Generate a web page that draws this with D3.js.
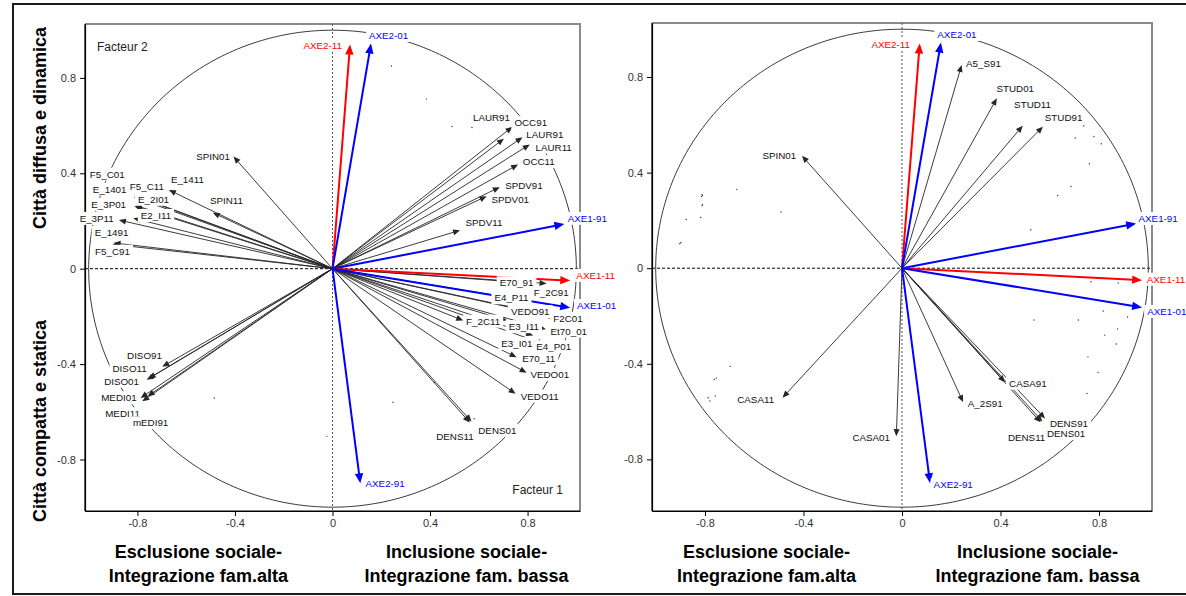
<!DOCTYPE html>
<html>
<head>
<meta charset="utf-8">
<script src="https://cdnjs.cloudflare.com/ajax/libs/d3/7.8.5/d3.min.js"></script>
<style>
  body { margin: 0; background: #fff; }
  svg { display: block; }
  text { font-family: "Liberation Sans", Arial, sans-serif; }
</style>
</head>
<body>
<div id="chart"></div>
<script>
// tick values shared by both panels
const ticks = [-0.8, -0.4, 0, 0.4, 0.8];
const tickLabels = ["-0.8", "-0.4", "0", "0.4", "0.8"];

// variable coordinates: [name, factor 1, factor 2]
const variables = [
  ["SPIN01", -0.406, 0.47], ["SPIN11", -0.491, 0.235], ["E_1411", -0.671, 0.33],
  ["F5_C11", -0.81, 0.305], ["F5_C01", -0.812, 0.308], ["E_1401", -0.814, 0.3],
  ["E_3P01", -0.81, 0.266], ["E_2I01", -0.812, 0.262], ["E2_I11", -0.817, 0.212],
  ["E_3P11", -0.876, 0.204], ["E_1491", -0.898, 0.108], ["F5_C91", -0.902, 0.102],
  ["OCC91", 0.738, 0.595], ["LAUR91", 0.703, 0.545], ["LAUR01", 0.779, 0.551],
  ["LAUR11", 0.809, 0.521], ["OCC11", 0.761, 0.437], ["SPDV91", 0.686, 0.342],
  ["SPDV01", 0.632, 0.304], ["SPDV11", 0.523, 0.161],
  ["E70_91", 0.767, -0.057], ["F_2C91", 0.878, -0.062], ["E4_P11", 0.748, -0.125],
  ["VEDO91", 0.817, -0.179], ["F2C01", 0.916, -0.204], ["F_2C11", 0.536, -0.217],
  ["E3_I11", 0.716, -0.217], ["Et70_01", 0.875, -0.254], ["E3_I01", 0.823, -0.28],
  ["E4_P01", 0.87, -0.317], ["E70_11", 0.755, -0.371], ["VEDO01", 0.796, -0.436],
  ["VEDO11", 0.751, -0.524], ["DENS11", 0.563, -0.645], ["DENS01", 0.57, -0.641],
  ["DENS91", 0.581, -0.629],
  ["DISO91", -0.698, -0.411], ["DISO11", -0.754, -0.46], ["DISO01", -0.762, -0.466],
  ["MEDI01", -0.787, -0.542], ["MEDI11", -0.78, -0.556], ["MEDI91", -0.758, -0.535],
  ["A5_S91", 0.242, 0.85], ["STUD01", 0.385, 0.711], ["STUD11", 0.49, 0.596],
  ["STUD91", 0.572, 0.592], ["CASA11", -0.485, -0.542], ["CASA01", -0.023, -0.703],
  ["CASA91", 0.418, -0.477], ["A_2S91", 0.248, -0.56]
];

// projections of the yearly axes
const yearAxes = [
  ["AXE2-11", 0.072, 0.94], ["AXE2-01", 0.158, 0.944], ["AXE1-91", 0.951, 0.187],
  ["AXE1-11", 0.975, -0.05], ["AXE1-01", 0.975, -0.164], ["AXE2-91", 0.114, -0.9]
];

// variables drawn as arrows in each panel (the others are small points)
const leftArrows = [
  "SPIN01", "SPIN11", "E_1411", "F5_C11", "F5_C01", "E_1401", "E_3P01", "E_2I01", "E2_I11",
  "E_3P11", "E_1491", "F5_C91", "OCC91", "LAUR91", "LAUR01", "LAUR11", "OCC11", "SPDV91",
  "SPDV01", "SPDV11", "E70_91", "F_2C91", "E4_P11", "VEDO91", "F2C01", "F_2C11", "E3_I11",
  "Et70_01", "E3_I01", "E4_P01", "E70_11", "VEDO01", "VEDO11", "DENS11", "DENS01",
  "DISO91", "DISO11", "DISO01", "MEDI01", "MEDI11", "MEDI91"
];
const rightArrows = [
  "SPIN01", "A5_S91", "STUD01", "STUD11", "STUD91", "CASA11", "CASA01", "CASA91",
  "A_2S91", "DENS91", "DENS11", "DENS01"
];

// label anchors, in factor units: [text, factor 1, factor 2]
const leftLabels = [
  ["SPIN01", -0.49, 0.471], ["SPIN11", -0.435, 0.286], ["E_1411", -0.595, 0.375],
  ["F5_C11", -0.761, 0.346], ["F5_C01", -0.924, 0.396], ["E_1401", -0.914, 0.333],
  ["E_3P01", -0.918, 0.27], ["E_2I01", -0.734, 0.291], ["E2_I11", -0.724, 0.223],
  ["E_3P11", -0.967, 0.211], ["E_1491", -0.906, 0.152], ["F5_C91", -0.902, 0.073],
  ["LAUR91", 0.652, 0.636], ["OCC91", 0.813, 0.612], ["LAUR91", 0.871, 0.563],
  ["LAUR11", 0.907, 0.51], ["OCC11", 0.846, 0.449], ["SPDV91", 0.785, 0.349],
  ["SPDV01", 0.729, 0.291], ["SPDV11", 0.621, 0.195],
  ["E70_91", 0.755, -0.059], ["F_2C91", 0.897, -0.101], ["E4_P11", 0.734, -0.122],
  ["VEDO91", 0.811, -0.18], ["F2C01", 0.966, -0.208], ["F_2C11", 0.618, -0.22],
  ["E3_I11", 0.785, -0.243], ["Et70_01", 0.969, -0.262], ["E3_I01", 0.756, -0.314],
  ["E4_P01", 0.907, -0.327], ["E70_11", 0.846, -0.376], ["VEDO01", 0.891, -0.443],
  ["VEDO11", 0.85, -0.534], ["DENS01", 0.676, -0.678], ["DENS11", 0.502, -0.702],
  ["DISO91", -0.771, -0.364], ["DISO11", -0.832, -0.419], ["DISO01", -0.865, -0.471],
  ["MEDI01", -0.876, -0.541], ["MEDI11", -0.861, -0.608], ["mEDI91", -0.746, -0.646],
  ["AXE2-11", -0.04, 0.936], ["AXE2-01", 0.23, 0.978], ["AXE1-91", 1.045, 0.211],
  ["AXE1-11", 1.079, -0.028], ["AXE1-01", 1.083, -0.154], ["AXE2-91", 0.216, -0.9]
];
const rightLabels = [
  ["A5_S91", 0.331, 0.857], ["STUD01", 0.46, 0.75], ["STUD11", 0.53, 0.683],
  ["STUD91", 0.656, 0.63], ["SPIN01", -0.498, 0.471], ["CASA11", -0.594, -0.55],
  ["CASA01", -0.125, -0.71], ["CASA91", 0.511, -0.481], ["A_2S91", 0.338, -0.567],
  ["DENS91", 0.678, -0.648], ["DENS11", 0.506, -0.708], ["DENS01", 0.666, -0.692],
  ["AXE2-11", -0.046, 0.936], ["AXE2-01", 0.223, 0.978], ["AXE1-91", 1.04, 0.208],
  ["AXE1-11", 1.072, -0.046], ["AXE1-01", 1.075, -0.181], ["AXE2-91", 0.208, -0.907]
];

const xTitles = [["Esclusione sociale-", "Integrazione fam.alta"], ["Inclusione sociale-", "Integrazione fam. bassa"]];
const yTitles = ["Città diffusa e dinamica", "Città compatta e statica"];

const W = 1186, H = 596;
const xDomain = [-1.015, 1.015];
const yDomain = [-1.016, 1.026];
const RED = "#ff0000", BLUE = "#0000ff";
const axeColor = (name) => (name.endsWith("-11") ? RED : BLUE);

const panels = [
  { box: [85, 24, 580, 511], arrows: leftArrows, labels: leftLabels, facteurs: true },
  { box: [652, 23, 1152, 511], arrows: rightArrows, labels: rightLabels, facteurs: false }
];

const svg = d3.select("#chart").append("svg").attr("width", W).attr("height", H);

// outer frame
svg.append("rect")
  .attr("x", 13).attr("y", 4).attr("width", 1190).attr("height", 590)
  .attr("fill", "none").attr("stroke", "#1a1a1a").attr("stroke-width", 2);

const varByName = new Map(variables.map((d) => [d[0], d]));

function arrow(g, x0, y0, x1, y1, color, width, headLen, headW) {
  const dx = x1 - x0, dy = y1 - y0;
  const len = Math.hypot(dx, dy);
  const ux = dx / len, uy = dy / len;
  const bx = x1 - ux * headLen, by = y1 - uy * headLen;
  g.append("line")
    .attr("x1", x0).attr("y1", y0).attr("x2", bx + ux).attr("y2", by + uy)
    .attr("stroke", color).attr("stroke-width", width);
  g.append("path")
    .attr("d", `M${x1},${y1}L${bx - uy * headW},${by + ux * headW}L${bx + uy * headW},${by - ux * headW}Z`)
    .attr("fill", color);
}

panels.forEach((p, pi) => {
  const [left, top, right, bottom] = p.box;
  const x = d3.scaleLinear().domain(xDomain).range([left, right]);
  const y = d3.scaleLinear().domain(yDomain).range([bottom, top]);
  const g = svg.append("g");

  // top and right sides of the box
  g.append("path")
    .attr("d", `M${left},${top}H${right}V${bottom}`)
    .attr("fill", "none").attr("stroke", "#8a8a8a").attr("stroke-width", 2);

  // zero lines
  g.append("line")
    .attr("x1", left).attr("x2", right).attr("y1", y(0)).attr("y2", y(0))
    .attr("stroke", "#000").attr("stroke-dasharray", "3,2");
  g.append("line")
    .attr("x1", x(0)).attr("x2", x(0)).attr("y1", top).attr("y2", bottom)
    .attr("stroke", "#555").attr("stroke-dasharray", "2,2");

  // correlation circle
  const circle = d3.range(0, 361).map((a) => [x(Math.cos((a * Math.PI) / 180)), y(Math.sin((a * Math.PI) / 180))]);
  g.append("path").attr("d", d3.line()(circle))
    .attr("fill", "none").attr("stroke", "#3a3a3a").attr("stroke-width", 1);

  // axes
  const fmt = (d, i) => tickLabels[i];
  const yAxis = g.append("g").attr("transform", `translate(${left},0)`)
    .call(d3.axisLeft(y).tickValues(ticks).tickFormat(fmt).tickSize(5).tickPadding(4).tickSizeOuter(0));
  const xAxis = g.append("g").attr("transform", `translate(0,${bottom})`)
    .call(d3.axisBottom(x).tickValues(ticks).tickFormat(fmt).tickSize(5).tickPadding(3).tickSizeOuter(0));
  [yAxis, xAxis].forEach((a) => {
    a.attr("font-family", null).attr("font-size", 11);
    a.select(".domain").attr("stroke", "#000").attr("stroke-width", 1.2);
    a.selectAll(".tick line").attr("stroke", "#000");
    a.selectAll(".tick text").attr("fill", "#333");
  });
  // keep the full box edge on the left and bottom
  g.append("line").attr("x1", left).attr("x2", left).attr("y1", top).attr("y2", bottom)
    .attr("stroke", "#000").attr("stroke-width", 1.2);
  g.append("line").attr("x1", left).attr("x2", right).attr("y1", bottom).attr("y2", bottom)
    .attr("stroke", "#000").attr("stroke-width", 1.2);

  const ox = x(0), oy = y(0);
  const shown = new Set(p.arrows);

  // small points for the variables without arrows in this panel
  g.append("g").selectAll("circle")
    .data(variables.filter((d) => !shown.has(d[0])))
    .join("circle")
    .attr("cx", (d) => x(d[1])).attr("cy", (d) => y(d[2])).attr("r", 0.7)
    .attr("fill", "#333");

  // variable arrows
  const ga = g.append("g");
  p.arrows.forEach((name) => {
    const d = varByName.get(name);
    arrow(ga, ox, oy, x(d[1]), y(d[2]), "#262626", 0.9, 7, 3);
  });

  // yearly axes arrows
  yearAxes.forEach((d) => {
    arrow(ga, ox, oy, x(d[1]), y(d[2]), axeColor(d[0]), 2, 10, 4.2);
  });

  // labels with white boxes, drawn in order
  const gl = g.append("g");
  p.labels.forEach((d) => {
    const isAxe = d[0].startsWith("AXE");
    const lg = gl.append("g");
    const rect = lg.append("rect").attr("fill", "#fff");
    const t = lg.append("text")
      .attr("x", x(d[1])).attr("y", y(d[2]))
      .attr("text-anchor", "middle").attr("dominant-baseline", "central")
      .attr("font-size", 9.8)
      .attr("fill", isAxe ? axeColor(d[0]) : "#111")
      .text(d[0]);
    const bb = t.node().getBBox();
    rect.attr("x", bb.x - 3).attr("y", y(d[2]) - 6.5)
      .attr("width", bb.width + 6).attr("height", 13);
  });

  if (p.facteurs) {
    g.append("text").attr("x", left + 12).attr("y", top + 23)
      .attr("dominant-baseline", "central").attr("font-size", 12).attr("fill", "#222")
      .text("Facteur 2");
    g.append("text").attr("x", right - 17).attr("y", bottom - 21)
      .attr("text-anchor", "end").attr("dominant-baseline", "central")
      .attr("font-size", 12).attr("fill", "#222")
      .text("Facteur 1");
  }

  // horizontal axis titles under each half
  [x(-0.55), x(0.55)].forEach((cx, k) => {
    xTitles[k].forEach((line, j) => {
      g.append("text")
        .attr("x", cx).attr("y", 552 + j * 23.5)
        .attr("text-anchor", "middle").attr("dominant-baseline", "central")
        .attr("font-size", 18).attr("font-weight", "bold").attr("fill", "#000")
        .text(line);
    });
  });

  if (pi === 0) {
    [128, 421].forEach((cy, k) => {
      g.append("text")
        .attr("transform", `translate(40,${cy}) rotate(-90)`)
        .attr("text-anchor", "middle").attr("dominant-baseline", "central")
        .attr("font-size", 18).attr("font-weight", "bold").attr("fill", "#000")
        .text(yTitles[k]);
    });
  }
});
</script>
</body>
</html>
